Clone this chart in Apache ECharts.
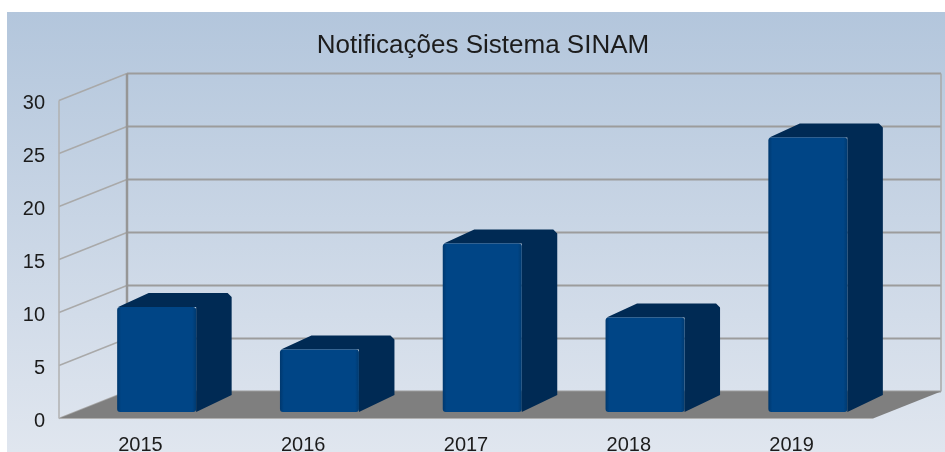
<!DOCTYPE html>
<html>
<head>
<meta charset="utf-8">
<style>
    html, body { margin: 0; padding: 0; background: #fff; }
    #main { width: 945px; height: 452px; filter: blur(0.4px); }
</style>
<script src="https://cdn.jsdelivr.net/npm/echarts@6/dist/echarts.min.js"></script>
</head>
<body>
<div id="main"></div>
<script>
const chartTitle = 'Notificações Sistema SINAM';
const years = ['2015', '2016', '2017', '2018', '2019'];
const notifications = [10, 6, 16, 9, 26];
const gridTicks = [0, 5, 10, 15, 20, 25, 30];

// pseudo 3D: how far the back wall sits from the front plane, in pixels
const wallDx = 68, wallDy = -27;
const barDx = 35.5, barDy = -14;
const barWidth = 79;

function renderGridLine(params, api) {
    const p = api.coord([0, api.value(0)]);
    const x0 = params.coordSys.x, x1 = x0 + params.coordSys.width;
    const style = { fill: 'none', stroke: '#9c9c9c', lineWidth: 2 };
    return {
        type: 'group',
        children: [
            { type: 'line', shape: { x1: x0, y1: p[1], x2: x0 + wallDx, y2: p[1] + wallDy },
              style: { stroke: '#a9a9a9', lineWidth: 1.5 } },
            { type: 'line', shape: { x1: x0 + wallDx, y1: p[1] + wallDy, x2: x1 + wallDx, y2: p[1] + wallDy },
              style: style }
        ]
    };
}

function renderWalls(params, api) {
    const c = params.coordSys;
    const bottom = c.y + c.height;
    return {
        type: 'group',
        children: [
            { type: 'polygon', shape: { points: [
                [c.x, bottom], [c.x + wallDx, bottom + wallDy],
                [c.x + c.width + wallDx, bottom + wallDy], [c.x + c.width, bottom]
              ] }, style: { fill: '#7f7f7f' } },
            { type: 'line', shape: { x1: c.x, y1: c.y, x2: c.x, y2: bottom },
              style: { stroke: '#b0b0b0', lineWidth: 1.5 } },
            { type: 'line', shape: { x1: c.x + wallDx, y1: c.y + wallDy, x2: c.x + wallDx, y2: bottom + wallDy },
              style: { stroke: '#969696', lineWidth: 2.5 } },
            { type: 'line', shape: { x1: c.x + c.width + wallDx, y1: c.y + wallDy, x2: c.x + c.width + wallDx, y2: bottom + wallDy },
              style: { stroke: '#a9a9a9', lineWidth: 1.5 } },
            { type: 'line', shape: { x1: c.x, y1: bottom, x2: c.x + c.width, y2: bottom },
              style: { stroke: '#b0b0b0', lineWidth: 1 } }
        ]
    };
}

function renderBar(params, api) {
    const top = api.coord([api.value(0), api.value(1)]);
    const base = api.coord([api.value(0), 0]);
    // bars stand halfway along the floor
    const ox = (wallDx - barDx) / 2, oy = (wallDy - barDy) / 2;
    const x0 = top[0] - barWidth / 2 + ox, x1 = x0 + barWidth;
    const yt = top[1] + oy + 1, yb = base[1] + oy;
    const dark = '#002a54';
    return {
        type: 'group',
        children: [
            { type: 'polygon', shape: { points: [
                [x0 + 1, yt], [x0 + barDx - 4, yt + barDy], [x1 + barDx - 4, yt + barDy],
                [x1 + barDx, yt + barDy + 4], [x1 + barDx, yb + barDy - 3], [x1, yb], [x1, yt]
              ] }, style: { fill: dark } },
            { type: 'rect', shape: { x: x0, y: yt, width: barWidth, height: yb - yt, r: 3 },
              style: { fill: {
                  type: 'linear', x: 0, y: 0, x2: 1, y2: 0,
                  colorStops: [
                      { offset: 0, color: '#00386e' }, { offset: 0.05, color: '#004586' },
                      { offset: 0.95, color: '#004586' }, { offset: 1, color: '#003a70' }
                  ]
              } } }
        ]
    };
}

const chart = echarts.init(document.getElementById('main'));
chart.setOption({
    animation: false,
    graphic: [{
        type: 'rect', silent: true, z: -1,
        shape: { x: 7, y: 12, width: 938, height: 440 },
        style: { fill: {
            type: 'linear', x: 0, y: 0, x2: 0, y2: 1,
            colorStops: [{ offset: 0, color: '#b3c6dc' }, { offset: 1, color: '#e0e6ef' }]
        } }
    }],
    title: {
        text: chartTitle,
        left: 478, top: 28, textAlign: 'center',
        textStyle: { fontFamily: 'Liberation Sans', fontSize: 26, fontWeight: 'normal', color: '#1c1c1c' }
    },
    grid: { left: 59, top: 100.5, width: 814, height: 318, outerBoundsMode: 'none' },
    xAxis: {
        type: 'category',
        data: years,
        axisLine: { show: false },
        axisTick: { show: false },
        axisLabel: { margin: 17, fontFamily: 'Liberation Sans', fontSize: 20, color: '#1c1c1c' }
    },
    yAxis: {
        type: 'value',
        min: 0, max: 30, interval: 5,
        splitLine: { show: false },
        axisLine: { show: false },
        axisTick: { show: false },
        // lineHeight + top align pushes the numbers a little below their tick
        axisLabel: { margin: 14, verticalAlign: 'top', lineHeight: 5, fontFamily: 'Liberation Sans', fontSize: 20, color: '#1c1c1c' }
    },
    series: [
        { type: 'custom', renderItem: renderGridLine, data: gridTicks.map(v => [v]), encode: { y: 0 }, clip: false, silent: true, z: 1 },
        { type: 'custom', renderItem: renderWalls, data: [[0]], encode: { y: 0 }, clip: false, silent: true, z: 2 },
        { type: 'custom', renderItem: renderBar, data: years.map((y, i) => [i, notifications[i]]), encode: { x: 0, y: 1 }, clip: false, silent: true, z: 3 }
    ]
});
</script>
</body>
</html>
